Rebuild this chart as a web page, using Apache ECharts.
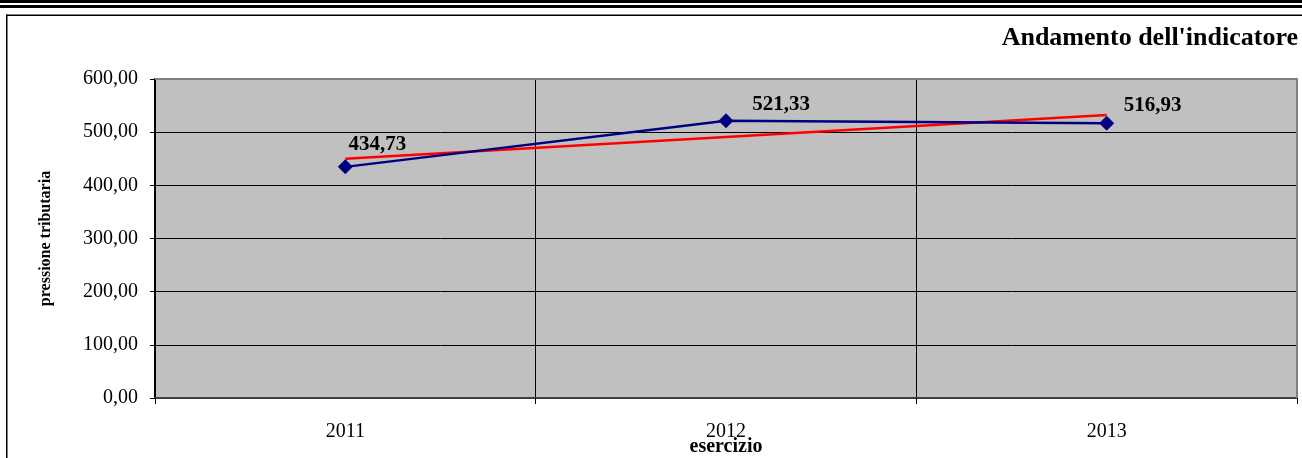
<!DOCTYPE html>
<html>
<head>
<meta charset="utf-8">
<script src="https://cdn.jsdelivr.net/npm/echarts@6/dist/echarts.min.js"></script>
<style>
html,body{margin:0;padding:0;background:#fff;}
#c{width:1302px;height:458px;}
</style>
</head>
<body>
<div id="c"></div>
<script>
var categories = ['2011', '2012', '2013'];
var values = [434.73, 521.33, 516.93];
var trendValues = [450.0, 491.0, 532.1];
var yTicks = [0, 100, 200, 300, 400, 500, 600];
var labelOffsets = [[32, -22], [55, -16], [46, -18]];

var FONT = '"Liberation Serif", "Times New Roman", serif';
function fmt(v) { return v.toFixed(2).replace('.', ','); }

var chart = echarts.init(document.getElementById('c'), null, {renderer: 'canvas'});
var W = 1302, H = 458;
var G = {left: 155, right: 5, top: 79, bottom: 60};

var option = {
  animation: false,
  backgroundColor: '#ffffff',
  textStyle: {fontFamily: FONT},
  title: {
    text: "Andamento dell'indicatore",
    right: 4, top: 25, padding: 0,
    textStyle: {fontFamily: FONT, fontWeight: 'bold', fontSize: 26, color: '#000'}
  },
  grid: {
    left: G.left, right: G.right, top: G.top, bottom: G.bottom,
    containLabel: false,
    outerBoundsMode: 'none',
    show: true, backgroundColor: '#C0C0C0', borderWidth: 0
  },
  xAxis: {
    type: 'category',
    data: categories,
    boundaryGap: true,
    name: 'esercizio',
    nameLocation: 'middle',
    nameGap: 39,
    nameMoveOverlap: false,
    nameTextStyle: {fontFamily: FONT, fontWeight: 'bold', fontSize: 20, color: '#000'},
    axisLine: {show: true, lineStyle: {color: '#404040', width: 2}},
    axisTick: {show: true, length: 6, lineStyle: {color: '#000', width: 1}},
    axisLabel: {fontFamily: FONT, fontSize: 20, color: '#000', margin: 24},
    splitLine: {show: true, lineStyle: {color: '#000', width: 1}}
  },
  yAxis: {
    type: 'value',
    min: yTicks[0], max: yTicks[yTicks.length - 1], interval: yTicks[1] - yTicks[0],
    name: 'pressione tributaria',
    nameLocation: 'middle',
    nameGap: 101,
    nameMoveOverlap: false,
    nameRotate: 90,
    nameTextStyle: {fontFamily: FONT, fontWeight: 'bold', fontSize: 16, color: '#000'},
    axisLine: {show: true, lineStyle: {color: '#000', width: 2}},
    axisTick: {show: true, length: 5, lineStyle: {color: '#000', width: 1}},
    axisLabel: {fontFamily: FONT, fontSize: 20, color: '#000', margin: 17, formatter: function (v) { return fmt(v); }},
    splitLine: {show: true, lineStyle: {color: '#000', width: 1}}
  },
  series: [
    {
      type: 'line',
      data: trendValues,
      symbol: 'none',
      lineStyle: {color: '#FF0000', width: 2.5},
      z: 3
    },
    {
      type: 'line',
      data: values.map(function (v, i) {
        return {
          value: v,
          label: {offset: labelOffsets[i]}
        };
      }),
      symbol: 'diamond',
      symbolSize: 15,
      itemStyle: {color: '#000080'},
      lineStyle: {color: '#000080', width: 2.5},
      label: {
        show: true,
        position: 'inside',
        align: 'center',
        verticalAlign: 'middle',
        fontFamily: FONT, fontWeight: 'bold', fontSize: 21, color: '#000',
        formatter: function (p) { return fmt(p.value); }
      },
      z: 4
    }
  ],
  graphic: [
    {type: 'rect', shape: {x: 0, y: 0, width: W, height: 3}, style: {fill: '#000'}, silent: true},
    {type: 'rect', shape: {x: 0, y: 5, width: W, height: 3}, style: {fill: '#000'}, silent: true},
    {type: 'rect', shape: {x: 6, y: 14.5, width: W - 6, height: 1.5}, style: {fill: '#000'}, silent: true},
    {type: 'rect', shape: {x: 6, y: 14.5, width: 1.5, height: H - 14.5}, style: {fill: '#000'}, silent: true},
    {type: 'rect', shape: {x: G.left, y: G.top - 1, width: W - G.left - G.right + 1, height: 2}, style: {fill: '#808080'}, z: 10, silent: true},
    {type: 'rect', shape: {x: W - G.right - 1, y: G.top - 1, width: 2, height: H - G.top - G.bottom + 1}, style: {fill: '#808080'}, z: 10, silent: true}
  ]
};
chart.setOption(option);
</script>
</body>
</html>
